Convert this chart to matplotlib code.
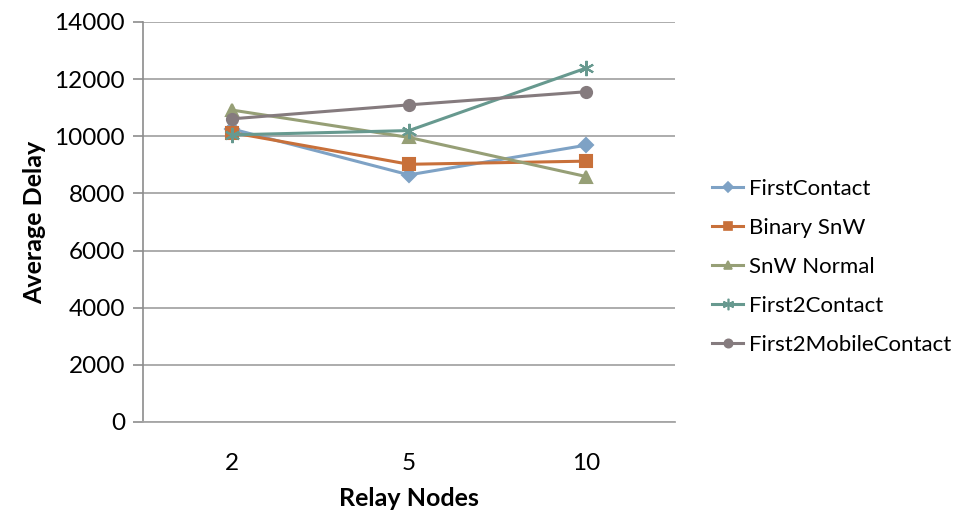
import numpy as np
import matplotlib.pyplot as plt
from matplotlib.lines import Line2D

plt.rcParams['font.family'] = ['Lato', 'DejaVu Sans']

relay_nodes = ['2', '5', '10']
first_contact = [10260, 8650, 9690]
binary_snw = [10130, 9020, 9130]
snw_normal = [10920, 9960, 8590]
first2_contact = [10050, 10200, 12390]
first2_mobile_contact = [10610, 11100, 11560]

series = [
    ('FirstContact', first_contact, '#7EA2C5', 'D', 7),
    ('Binary SnW', binary_snw, '#C8703A', 's', 8),
    ('SnW Normal', snw_normal, '#969F76', '^', 8),
    ('First2Contact', first2_contact, '#67998F', (6, 2, 0), 11),
    ('First2MobileContact', first2_mobile_contact, '#857B7E', 'o', 8),
]

fig = plt.figure(figsize=(9.55, 5.16), dpi=100)
ax = fig.add_axes([143 / 955, 1 - 422 / 516, 532 / 955, 400 / 516])

x = np.arange(len(relay_nodes))
handles = []
for name, vals, color, marker, ms in series:
    ax.plot(x, vals, color=color, lw=2.2, marker=marker, markersize=ms,
            markeredgecolor=color, markerfacecolor=color, mew=1.5)
    handles.append(Line2D([], [], color=color, lw=2.2, marker=marker,
                          markersize=ms * 0.75, markeredgecolor=color,
                          markerfacecolor=color, mew=1.2))

ax.set_xlim(-0.5, len(relay_nodes) - 0.5)
ax.set_ylim(0, 14000)
ax.set_yticks(np.arange(0, 14001, 2000))
ax.set_xticks(x)
ax.set_xticklabels(relay_nodes)
ax.yaxis.grid(True, color='#A6A6A6', lw=1.3)
ax.set_axisbelow(True)

for side in ['top', 'right']:
    ax.spines[side].set_visible(False)
ax.spines['left'].set_color('#8C8C8C')
ax.spines['bottom'].set_color('#A6A6A6')
ax.spines['left'].set_linewidth(1.2)
ax.spines['bottom'].set_linewidth(1.3)
ax.tick_params(axis='y', length=7, color='#8C8C8C', width=1.2, labelsize=17.5, pad=6)
ax.tick_params(axis='x', length=0, labelsize=17.5, pad=22)

ax.set_ylabel('Average Delay', fontsize=18, fontweight='bold', labelpad=6)
ax.set_xlabel('Relay Nodes', fontsize=18, fontweight='bold', labelpad=10)

fig.legend(handles, [s[0] for s in series], loc='center left',
           bbox_to_anchor=(692 / 955, 1 - 267 / 516), frameon=False,
           fontsize=16, handlelength=1.4, handletextpad=0.25, labelspacing=0.86)

fig.savefig('out.png', dpi=100)
